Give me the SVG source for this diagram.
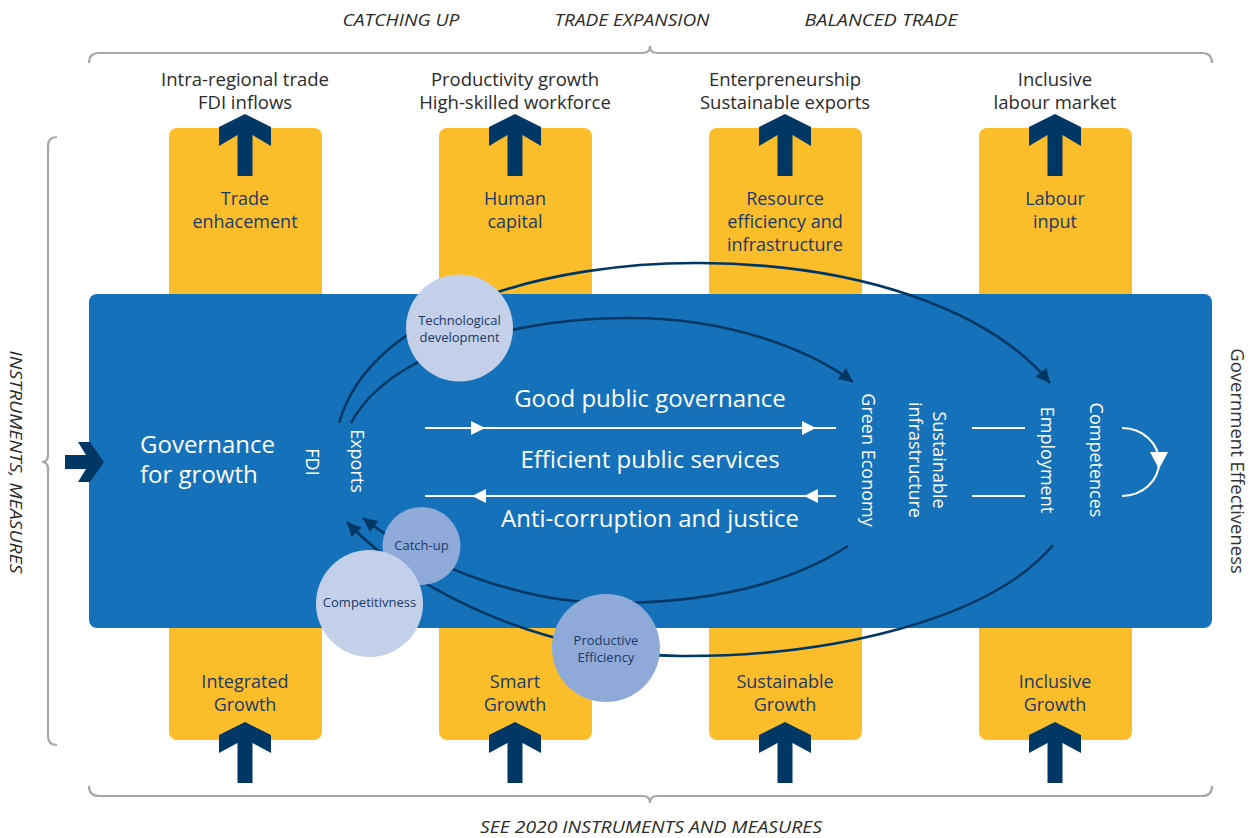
<svg xmlns="http://www.w3.org/2000/svg" width="1258" height="838" viewBox="0 0 1258 838">
<defs>
<style>
.t{font-family:"Open Sans","Noto Sans",sans-serif}
.hdr{font-family:"Open Sans","Noto Sans",sans-serif;font-style:italic;font-size:17px;fill:#2b2b2b}
.lab{font-family:"Open Sans","Noto Sans",sans-serif;font-size:18.5px;fill:#2b2b2b;text-anchor:middle}
.yl{font-family:"Open Sans","Noto Sans",sans-serif;font-size:18px;fill:#1b3a66;text-anchor:middle}
.wt{font-family:"Open Sans","Noto Sans",sans-serif;font-size:24px;fill:#fff;text-anchor:middle}
.vt{font-family:"Open Sans","Noto Sans",sans-serif;font-size:18px;fill:#fff;text-anchor:middle}
.ct{font-family:"Open Sans","Noto Sans",sans-serif;font-size:13px;fill:#1b3a66;text-anchor:middle}
.yel{fill:#FCBD2B}
.nav{fill:#003764}
.brace{fill:none;stroke:#A7A7A9;stroke-width:2.2}
.arc{fill:none;stroke:#003764;stroke-width:2.6}
.wl{stroke:#fff;stroke-width:2.2;fill:none}
.c1{fill:#C4CFE9}
.c2{fill:#8FAAD9}
</style>
<marker id="ah" viewBox="0 0 10 10" refX="10" refY="5" markerUnits="userSpaceOnUse" markerWidth="16" markerHeight="14" orient="auto">
<path d="M0,0 L10,5 L0,10 z" fill="#003764"/>
</marker>
</defs>
<rect width="1258" height="838" fill="#fff"/>

<!-- headers -->
<g id="headers">
<text class="hdr" x="401" y="26" text-anchor="middle" textLength="117" lengthAdjust="spacingAndGlyphs">CATCHING UP</text>
<text class="hdr" x="632" y="26" text-anchor="middle" textLength="155" lengthAdjust="spacingAndGlyphs">TRADE EXPANSION</text>
<text class="hdr" x="881" y="26" text-anchor="middle" textLength="153" lengthAdjust="spacingAndGlyphs">BALANCED TRADE</text>
<text class="hdr" x="651" y="833" text-anchor="middle" textLength="342" lengthAdjust="spacingAndGlyphs">SEE 2020 INSTRUMENTS AND MEASURES</text>
<text class="hdr" transform="translate(16,462) rotate(90)" x="0" y="6" text-anchor="middle" textLength="223" lengthAdjust="spacingAndGlyphs">INSTRUMENTS, MEASURES</text>
<text class="t" transform="translate(1237,461) rotate(90)" x="0" y="6.5" text-anchor="middle" font-size="18.5" fill="#333">Government Effectiveness</text>
</g>

<!-- braces -->
<g id="braces">
<path class="brace" d="M89 63 Q89 53 99 53 L643 53 Q650 53 650 46 Q650 53 657 53 L1202 53 Q1212 53 1212 63"/>
<path class="brace" d="M89 786 Q89 796 99 796 L643 796 Q650 796 650 803 Q650 796 657 796 L1202 796 Q1212 796 1212 786"/>
<path class="brace" d="M57 137 Q48 137 48 146 L48 455 Q48 462 42 462 Q48 462 48 469 L48 736 Q48 745 57 745"/>
</g>

<!-- top labels -->
<g id="top-labels">
<text class="lab" x="245" y="86">Intra-regional trade</text>
<text class="lab" x="245" y="109">FDI inflows</text>
<text class="lab" x="515" y="86">Productivity growth</text>
<text class="lab" x="515" y="109">High-skilled workforce</text>
<text class="lab" x="785" y="86">Enterpreneurship</text>
<text class="lab" x="785" y="109">Sustainable exports</text>
<text class="lab" x="1055" y="86">Inclusive</text>
<text class="lab" x="1055" y="109">labour market</text>
</g>

<!-- yellow columns -->
<g id="col-trade"><rect class="yel" x="169" y="128" width="153" height="200" rx="8"/></g>
<g id="col-human"><rect class="yel" x="439" y="128" width="153" height="200" rx="8"/></g>
<g id="col-resource"><rect class="yel" x="709" y="128" width="153" height="200" rx="8"/></g>
<g id="col-labour"><rect class="yel" x="979" y="128" width="153" height="200" rx="8"/></g>
<g id="col-integrated"><rect class="yel" x="169" y="600" width="153" height="140" rx="8"/></g>
<g id="col-smart"><rect class="yel" x="439" y="600" width="153" height="140" rx="8"/></g>
<g id="col-sustainable"><rect class="yel" x="709" y="600" width="153" height="140" rx="8"/></g>
<g id="col-inclusive"><rect class="yel" x="979" y="600" width="153" height="140" rx="8"/></g>

<!-- main blue block -->
<g id="governance">
<rect x="89" y="294" width="1123" height="334" rx="8" fill="#1572BA"/>
<text class="wt" x="140" y="453" text-anchor="start" style="text-anchor:start">Governance</text>
<text class="wt" x="140" y="483" style="text-anchor:start">for growth</text>
</g>

<!-- yellow texts -->
<g id="yellow-texts">
<text class="yl" x="245" y="205">Trade</text>
<text class="yl" x="245" y="228">enhacement</text>
<text class="yl" x="515" y="205">Human</text>
<text class="yl" x="515" y="228">capital</text>
<text class="yl" x="785" y="205">Resource</text>
<text class="yl" x="785" y="228">efficiency and</text>
<text class="yl" x="785" y="251">infrastructure</text>
<text class="yl" x="1055" y="205">Labour</text>
<text class="yl" x="1055" y="228">input</text>
<text class="yl" x="245" y="688">Integrated</text>
<text class="yl" x="245" y="711">Growth</text>
<text class="yl" x="515" y="688">Smart</text>
<text class="yl" x="515" y="711">Growth</text>
<text class="yl" x="785" y="688">Sustainable</text>
<text class="yl" x="785" y="711">Growth</text>
<text class="yl" x="1055" y="688">Inclusive</text>
<text class="yl" x="1055" y="711">Growth</text>
</g>

<!-- big arrows -->
<g id="arrows-up">
<polygon class="nav" points="245,114 271,127 271,146 252.5,135 252.5,176 237.5,176 237.5,135 219,146 219,127"/>
<polygon class="nav" points="515,114 541,127 541,146 522.5,135 522.5,176 507.5,176 507.5,135 489,146 489,127"/>
<polygon class="nav" points="785,114 811,127 811,146 792.5,135 792.5,176 777.5,176 777.5,135 759,146 759,127"/>
<polygon class="nav" points="1055,114 1081,127 1081,146 1062.5,135 1062.5,176 1047.5,176 1047.5,135 1029,146 1029,127"/>
<polygon class="nav" points="245,722 271,735 271,753 252.5,743 252.5,783 237.5,783 237.5,743 219,753 219,735"/>
<polygon class="nav" points="515,722 541,735 541,753 522.5,743 522.5,783 507.5,783 507.5,743 489,753 489,735"/>
<polygon class="nav" points="785,722 811,735 811,753 792.5,743 792.5,783 777.5,783 777.5,743 759,753 759,735"/>
<polygon class="nav" points="1055,722 1081,735 1081,753 1062.5,743 1062.5,783 1047.5,783 1047.5,743 1029,753 1029,735"/>
<polygon class="nav" points="65,455 86,455 78,442 90,442 104,462 90,482 78,482 86,469 65,469"/>
</g>

<!-- inner texts -->
<g id="centre-texts">
<text class="wt" x="650" y="407">Good public governance</text>
<text class="wt" x="650" y="468">Efficient public services</text>
<text class="wt" x="650" y="527">Anti-corruption and justice</text>
<text class="vt" transform="translate(312,462) rotate(90)" y="6.3">FDI</text>
<text class="vt" transform="translate(357,461) rotate(90)" y="6.3">Exports</text>
<text class="vt" transform="translate(868,460) rotate(90)" y="6.3">Green Economy</text>
<text class="vt" transform="translate(939,460) rotate(90)" y="6.3">Sustainable</text>
<text class="vt" transform="translate(915,460) rotate(90)" y="6.3">infrastructure</text>
<text class="vt" transform="translate(1047,460) rotate(90)" y="6.3">Employment</text>
<text class="vt" transform="translate(1096,460) rotate(90)" y="6.3">Competences</text>
</g>

<!-- connectors -->
<g id="connectors">
<line class="wl" x1="425" y1="428" x2="836" y2="428"/>
<polygon fill="#fff" points="471,421 485,428 471,435"/>
<polygon fill="#fff" points="802,421 816,428 802,435"/>
<line class="wl" x1="425" y1="496" x2="836" y2="496"/>
<polygon fill="#fff" points="486,489 472,496 486,503"/>
<polygon fill="#fff" points="818,489 804,496 818,503"/>
<line class="wl" x1="972" y1="428" x2="1025" y2="428"/>
<line class="wl" x1="972" y1="496" x2="1025" y2="496"/>
<path class="wl" d="M1122 428 A37 34 0 0 1 1122 496"/>
<polygon fill="#fff" points="1150,452 1168,452 1159,469"/>
<path class="arc" marker-end="url(#ah)" d="M339 423 C372 308 552 262 700 263 C860 264 990 310 1050 383"/>
<path class="arc" marker-end="url(#ah)" d="M351 423 C390 350 520 318 630 318 C730 318 810 350 853 382"/>
<path class="arc" marker-end="url(#ah)" d="M848 546 C780 590 690 603 610 603 C530 603 430 570 363 518"/>
<path class="arc" marker-end="url(#ah)" d="M1053 545 C990 620 830 657 680 656 C560 655 420 600 347 522"/>
</g>

<!-- circles -->
<g id="tech"><circle class="c1" cx="459.5" cy="328" r="53.5"/><text class="ct" x="459.5" y="325">Technological</text><text class="ct" x="459.5" y="342">development</text></g>
<g id="catchup"><circle class="c2" cx="421.5" cy="546" r="39"/><text class="ct" x="421.5" y="550">Catch-up</text></g>
<g id="competitiveness"><circle class="c1" cx="369.5" cy="603.5" r="53.5"/><text class="ct" x="369.5" y="607">Competitivness</text></g>
<g id="productive"><circle class="c2" cx="606" cy="648" r="54"/><text class="ct" x="606" y="645">Productive</text><text class="ct" x="606" y="662">Efficiency</text></g>
</svg>
